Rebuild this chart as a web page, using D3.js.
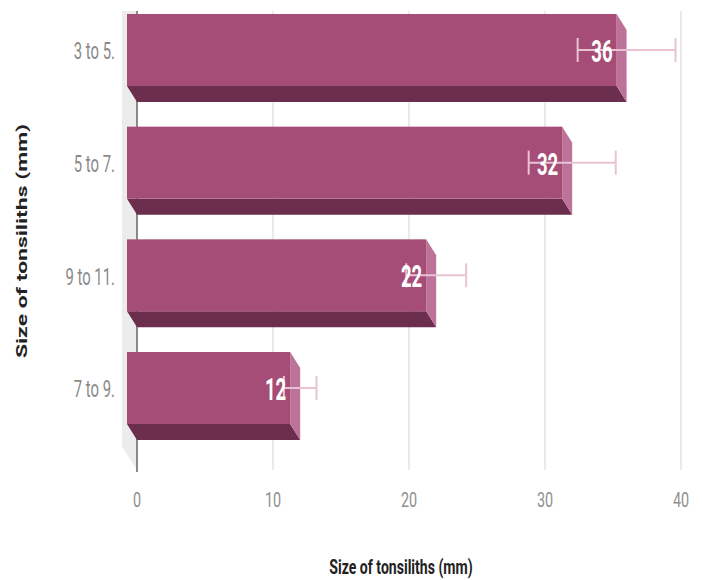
<!DOCTYPE html>
<html>
<head>
<meta charset="utf-8">
<script src="https://cdn.jsdelivr.net/npm/d3@7"></script>
<style>
  html, body { margin: 0; padding: 0; background: #ffffff; }
  svg { display: block; }
  text { font-family: Roboto, "Liberation Sans", Arial, sans-serif; }
</style>
</head>
<body>
<svg id="chart" width="702" height="580"></svg>
<script>
const categories = ["3 to 5.", "5 to 7.", "9 to 11.", "7 to 9."];
const values = [36, 32, 22, 12];
const errors = [3.6, 3.2, 2.2, 1.2];
const xTicks = [0, 10, 20, 30, 40];
const xTitle = "Size of tonsiliths (mm)";
const yTitle = "Size of tonsiliths (mm)";

const svg = d3.select("#chart");
const x = d3.scaleLinear().domain([0, 40]).range([137, 681]);
const y = d3.scaleBand().domain(categories).range([14, 440]).paddingInner(0.219).paddingOuter(0);
const dx = 10, dy = 16;
const plotTop = 11, plotBottom = 470;

function sText(g, tx, ty, str, opts) {
  const sx = opts.sx || 0.62;
  return g.append("text")
    .attr("transform", `translate(${tx},${ty}) scale(${sx},1)` + (opts.rotate ? ` rotate(${opts.rotate})` : ""))
    .attr("text-anchor", opts.anchor || "middle")
    .attr("dominant-baseline", "central")
    .attr("font-size", opts.size)
    .attr("font-weight", opts.weight || "normal")
    .attr("font-family", opts.family || null)
    .attr("fill", opts.fill)
    .text(str);
}

// side wall
svg.append("polygon")
  .attr("points", [[x(0) - 15, plotTop], [x(0), plotTop], [x(0), plotBottom], [x(0) - 15, plotBottom - 24]].map(p => p.join(",")).join(" "))
  .attr("fill", "#ececec");

// gridlines
svg.append("g").selectAll("line").data(xTicks.filter(t => t !== 0)).join("line")
  .attr("x1", d => x(d)).attr("x2", d => x(d))
  .attr("y1", plotTop).attr("y2", plotBottom)
  .attr("stroke", "#dcdcdc").attr("stroke-width", 1.2);
svg.append("line")
  .attr("x1", x(0)).attr("x2", x(0)).attr("y1", plotTop).attr("y2", plotBottom + 2)
  .attr("stroke", "#666").attr("stroke-width", 1.5);

// x tick labels
const tg = svg.append("g");
xTicks.forEach(t => sText(tg, x(t), 500, String(t), { size: 20, fill: "#8f8f8f", sx: 0.72 }));

// bars
const bg = svg.append("g");
categories.forEach((c, i) => {
  const v = values[i];
  const bx0 = x(0), bx1 = x(v);
  const by0 = y(c) + dy, by1 = y(c) + y.bandwidth();
  const fx0 = bx0 - dx, fx1 = bx1 - dx, fy0 = by0 - dy, fy1 = by1 - dy;
  const pts = a => a.map(p => p.join(",")).join(" ");
  bg.append("polygon").attr("points", pts([[fx0, fy1], [fx1, fy1], [bx1, by1], [bx0, by1]])).attr("fill", "#6b2e4c");
  bg.append("polygon").attr("points", pts([[fx1, fy0], [bx1, by0], [bx1, by1], [fx1, fy1]])).attr("fill", "#bd7299");
  bg.append("rect").attr("x", fx0).attr("y", fy0).attr("width", fx1 - fx0).attr("height", fy1 - fy0).attr("fill", "#a54d76");
  const cy = (fy0 + fy1) / 2;
  // error bar
  const e0 = x(v - errors[i]), e1 = x(v + errors[i]);
  bg.append("line").attr("x1", e0).attr("x2", e1).attr("y1", cy).attr("y2", cy).attr("stroke", "#e9c3d4").attr("stroke-width", 2);
  [e0, e1].forEach(ex => bg.append("line").attr("x1", ex).attr("x2", ex).attr("y1", cy - 12).attr("y2", cy + 12).attr("stroke", "#e9c3d4").attr("stroke-width", 2));
  // value label
  sText(bg, fx1 - 4, cy + 1, String(v), { size: 32, weight: "bold", fill: "#ffffff", anchor: "end", sx: 0.58 });
  // category label
  sText(bg, 115, cy + 1, c, { size: 24, fill: "#8a8a8a", anchor: "end", sx: 0.62 });
});

// axis titles
sText(svg, 401, 566, xTitle, { size: 21, weight: "bold", fill: "#222", sx: 0.67 });
sText(svg, 22, 241, yTitle, { size: 23, weight: "bold", fill: "#222", sx: 0.66, rotate: -90, family: "'Liberation Sans', Arial, sans-serif" });
</script>
</body>
</html>
